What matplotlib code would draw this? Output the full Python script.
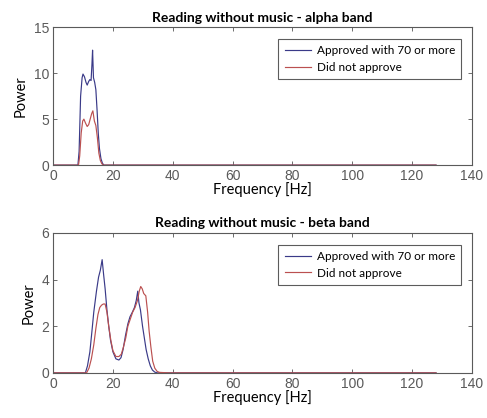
import matplotlib
matplotlib.use("Agg")
import matplotlib.pyplot as plt

# -- alpha band --
alpha_freq_hi = [0, 8.3, 8.7, 9.2, 9.7, 10.0, 10.5, 11.0, 11.4, 11.9, 12.3, 12.7, 13.0, 13.2, 13.5, 13.9, 14.3, 14.7, 15.1, 15.5, 16.0, 16.5, 17.0, 128]
alpha_pow_hi = [0, 0, 1.5, 7.5, 9.5, 9.9, 9.6, 9.0, 8.7, 9.1, 9.3, 9.2, 11.0, 12.5, 9.5, 9.0, 8.2, 6.0, 3.5, 1.8, 0.7, 0.2, 0, 0]

alpha_freq_lo = [0, 8.5, 8.9, 9.4, 9.9, 10.3, 10.8, 11.4, 11.9, 12.4, 12.9, 13.3, 13.8, 14.3, 14.8, 15.3, 15.8, 16.3, 16.8, 128]
alpha_pow_lo = [0, 0, 1.0, 3.5, 4.8, 5.0, 4.6, 4.2, 4.4, 5.0, 5.6, 5.9, 4.8, 4.3, 3.0, 1.3, 0.5, 0.15, 0, 0]

# -- beta band --
beta_freq_hi = [0, 10.8, 11.5, 12.3, 13.0, 13.6, 14.5, 15.2, 15.8, 16.4, 16.9, 17.4, 18.0, 18.6, 19.2, 20.0, 21.0, 22.0, 22.7, 23.4, 24.2, 25.0, 25.7, 26.5, 27.2, 27.8, 28.3, 28.7, 29.2, 29.9, 30.5, 31.1, 31.8, 32.5, 33.2, 34.0, 34.8, 38.0, 128]
beta_pow_hi = [0, 0, 0.3, 0.9, 1.8, 2.6, 3.5, 4.1, 4.4, 4.85, 4.2, 3.6, 2.7, 2.0, 1.4, 0.9, 0.6, 0.55, 0.65, 1.0, 1.6, 2.1, 2.4, 2.6, 2.8, 3.1, 3.5, 3.0, 2.7, 2.0, 1.5, 1.0, 0.6, 0.3, 0.12, 0.03, 0, 0, 0]

beta_freq_lo = [0, 11.2, 12.0, 12.8, 13.6, 14.3, 15.0, 15.6, 16.2, 16.8, 17.4, 18.0, 18.6, 19.3, 20.0, 21.0, 22.0, 22.8, 23.5, 24.3, 25.0, 25.8, 26.6, 27.4, 28.2, 28.8, 29.3, 29.8, 30.3, 31.0, 31.6, 32.1, 32.7, 33.3, 34.0, 34.8, 35.6, 38.7, 128]
beta_pow_lo = [0, 0, 0.2, 0.6, 1.2, 1.9, 2.5, 2.8, 2.9, 2.95, 2.95, 2.6, 2.0, 1.4, 0.95, 0.7, 0.7, 0.8, 1.1, 1.5, 2.0, 2.3, 2.6, 2.8, 3.1, 3.5, 3.7, 3.6, 3.4, 3.3, 2.6, 1.8, 1.1, 0.5, 0.2, 0.06, 0.02, 0, 0]

series_labels = ["Approved with 70 or more", "Did not approve"]
titles = ["Reading without music - alpha band", "Reading without music - beta band"]
x_ticks = [0, 20, 40, 60, 80, 100, 120, 140]

BLUE = "#3a3a88"
RED = "#bb5050"
TICK_GREY = "#555555"

fig = plt.figure(figsize=(4.87, 4.18), dpi=100)
ax_top = fig.add_axes([0.109, 0.605, 0.860, 0.330])
ax_bot = fig.add_axes([0.109, 0.108, 0.860, 0.335])

panels = [
    (ax_top, alpha_freq_hi, alpha_pow_hi, alpha_freq_lo, alpha_pow_lo, 15, [0, 5, 10, 15], titles[0]),
    (ax_bot, beta_freq_hi, beta_pow_hi, beta_freq_lo, beta_pow_lo, 6, [0, 2, 4, 6], titles[1]),
]

for ax, fh, ph, fl, pl, ymax, yticks, title in panels:
    ax.plot(fh, ph, color=BLUE, lw=0.85, label=series_labels[0])
    ax.plot(fl, pl, color=RED, lw=0.85, label=series_labels[1])
    ax.set_xlim(0, 140)
    ax.set_ylim(0, ymax)
    ax.set_xticks(x_ticks)
    ax.set_yticks(yticks)
    # MATLAB-like box: inward ticks on all sides, labels only bottom/left
    ax.tick_params(direction="in", length=3, width=0.6, top=True, right=True,
                   colors=TICK_GREY, labelsize=10, labelcolor="#5a5a5a", pad=3)
    for lbl in ax.get_xticklabels() + ax.get_yticklabels():
        lbl.set_family("Liberation Sans")
    for sp in ax.spines.values():
        sp.set_color("#5a5a5a")
        sp.set_linewidth(0.8)
    ax.set_title(title, fontsize=10, fontweight="bold", family="Lato", pad=4)
    ax.set_xlabel("Frequency [Hz]", fontsize=10.5, family="Lato", labelpad=-1)
    ax.set_ylabel("Power", fontsize=10.5, family="Lato", labelpad=4)
    leg = ax.legend(loc="upper right", bbox_to_anchor=(0.975, 0.915),
                    frameon=True, fancybox=False, handlelength=2.2, borderpad=0.55,
                    labelspacing=0.45, handletextpad=0.5, borderaxespad=0,
                    prop={"family": "Lato", "size": 8.5})
    leg.get_frame().set_edgecolor("#333333")
    leg.get_frame().set_linewidth(0.8)

fig.savefig("out.png", dpi=100, facecolor="white")
